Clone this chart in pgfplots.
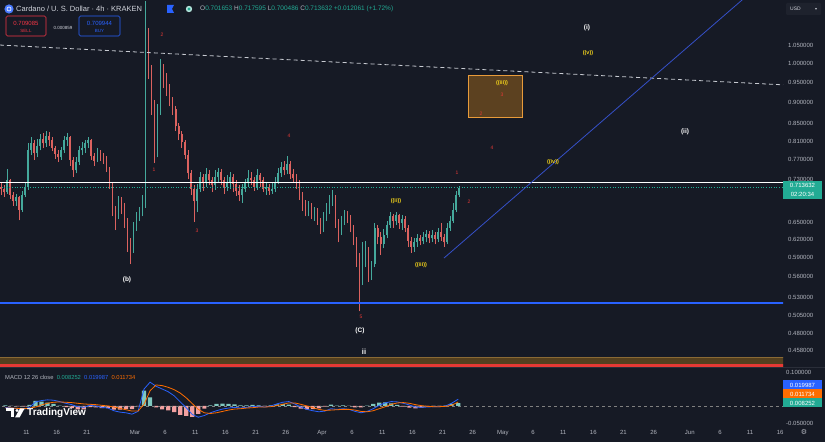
\documentclass[border=0pt]{standalone}
\usepackage{pgfplots}
\pgfplotsset{compat=1.18}
\usepackage{pgfplotstable}
\usepackage{fontspec}
\setmainfont{Liberation Sans}
\newfontfamily\symfont{DejaVu Sans}
\newcommand\fs[1]{\fontsize{#1}{#1}\selectfont}
\definecolor{bg}{HTML}{161A25}
\definecolor{txt}{HTML}{B2B5BE}
\definecolor{hdr}{HTML}{D1D4DC}
\definecolor{up}{HTML}{45A99C}
\definecolor{dn}{HTML}{DB625F}
\definecolor{tvblue}{HTML}{2962FF}
\definecolor{diagblue}{HTML}{3550C8}
\definecolor{tvorange}{HTML}{FF6D00}
\definecolor{tvteal}{HTML}{22AB94}
\definecolor{tvred}{HTML}{F23645}
\definecolor{ewred}{HTML}{E53935}
\definecolor{ewyellow}{HTML}{F2D21B}
\definecolor{bandbrown}{HTML}{54401F}
\definecolor{bandedge}{HTML}{8A6A35}
\definecolor{boxfill}{HTML}{5C4120}
\definecolor{boxedge}{HTML}{E89B3A}
\definecolor{dashcol}{HTML}{C8CBD2}
\definecolor{histpos}{HTML}{7FC8BF}
\definecolor{histneg}{HTML}{F2A0A0}
\definecolor{sep}{HTML}{2A2E39}
\definecolor{usdbg}{HTML}{1E222D}

% 12h candles, x = days from 1 Mar 2025
\pgfplotstableread{
x o h l c
-22.25 0.716 0.722 0.700 0.712
-21.75 0.712 0.718 0.696 0.705
-21.25 0.705 0.750 0.702 0.728
-20.75 0.728 0.730 0.692 0.700
-20.25 0.700 0.705 0.680 0.688
-19.75 0.688 0.702 0.680 0.695
-19.25 0.695 0.698 0.653 0.672
-18.75 0.672 0.708 0.668 0.700
-18.25 0.700 0.725 0.695 0.715
-17.75 0.715 0.805 0.710 0.790
-17.25 0.790 0.818 0.780 0.805
-16.75 0.805 0.812 0.770 0.785
-16.25 0.785 0.815 0.775 0.800
-15.75 0.800 0.825 0.790 0.815
-15.25 0.815 0.828 0.795 0.805
-14.75 0.805 0.832 0.798 0.822
-14.25 0.822 0.830 0.800 0.812
-13.75 0.812 0.818 0.788 0.795
-13.25 0.795 0.800 0.772 0.782
-12.75 0.782 0.790 0.765 0.775
-12.25 0.775 0.798 0.770 0.790
-11.75 0.790 0.822 0.785 0.812
-11.25 0.812 0.828 0.800 0.818
-10.75 0.818 0.822 0.758 0.770
-10.25 0.770 0.775 0.735 0.748
-9.75 0.748 0.775 0.742 0.765
-9.25 0.765 0.800 0.760 0.790
-8.75 0.790 0.808 0.780 0.795
-8.25 0.795 0.812 0.785 0.805
-7.75 0.805 0.820 0.795 0.812
-7.25 0.812 0.815 0.770 0.778
-6.75 0.778 0.785 0.758 0.768
-6.25 0.768 0.795 0.765 0.785
-5.75 0.785 0.790 0.768 0.776
-5.25 0.776 0.785 0.762 0.772
-4.75 0.772 0.778 0.745 0.752
-4.25 0.752 0.756 0.712 0.722
-3.75 0.722 0.725 0.660 0.672
-3.25 0.672 0.680 0.636 0.660
-2.75 0.660 0.698 0.655 0.688
-2.25 0.688 0.695 0.665 0.680
-1.75 0.680 0.684 0.640 0.652
-1.25 0.652 0.658 0.600 0.615
-0.75 0.615 0.622 0.580 0.602
-0.25 0.602 0.650 0.598 0.640
0.25 0.640 0.668 0.635 0.660
0.75 0.660 0.678 0.652 0.668
1.25 0.668 0.700 0.660 0.680
1.75 0.680 1.185 0.675 1.060
2.25 1.060 1.100 0.960 0.985
2.75 0.985 0.995 0.870 0.900
3.25 0.900 0.905 0.763 0.815
3.75 0.815 0.895 0.775 0.880
4.25 0.880 1.012 0.870 0.985
4.75 0.985 0.998 0.935 0.962
5.25 0.962 0.975 0.915 0.935
5.75 0.935 0.945 0.890 0.905
6.25 0.905 0.912 0.870 0.885
6.75 0.885 0.890 0.832 0.845
7.25 0.845 0.852 0.812 0.825
7.75 0.825 0.832 0.795 0.808
8.25 0.808 0.812 0.772 0.780
8.75 0.780 0.790 0.730 0.742
9.25 0.742 0.748 0.700 0.712
9.75 0.712 0.718 0.650 0.688
10.25 0.688 0.720 0.668 0.712
10.75 0.712 0.745 0.705 0.735
11.25 0.735 0.740 0.708 0.722
11.75 0.722 0.752 0.715 0.740
12.25 0.740 0.748 0.718 0.728
12.75 0.728 0.735 0.705 0.718
13.25 0.718 0.748 0.710 0.735
13.75 0.735 0.752 0.725 0.745
14.25 0.745 0.750 0.718 0.728
14.75 0.728 0.735 0.702 0.715
15.25 0.715 0.738 0.708 0.722
15.75 0.722 0.745 0.712 0.735
16.25 0.735 0.740 0.705 0.720
16.75 0.720 0.728 0.698 0.708
17.25 0.708 0.718 0.688 0.700
17.75 0.700 0.720 0.685 0.712
18.25 0.712 0.730 0.705 0.722
18.75 0.722 0.748 0.715 0.732
19.25 0.732 0.745 0.718 0.728
19.75 0.728 0.735 0.708 0.715
20.25 0.715 0.750 0.710 0.738
20.75 0.738 0.742 0.715 0.728
21.25 0.728 0.735 0.705 0.712
21.75 0.712 0.722 0.700 0.715
22.25 0.715 0.720 0.700 0.708
22.75 0.708 0.722 0.702 0.712
23.25 0.712 0.735 0.705 0.725
23.75 0.725 0.752 0.720 0.742
24.25 0.742 0.765 0.735 0.755
24.75 0.755 0.768 0.738 0.748
25.25 0.748 0.778 0.740 0.762
25.75 0.762 0.768 0.730 0.740
26.25 0.740 0.750 0.722 0.732
26.75 0.732 0.740 0.712 0.722
27.25 0.722 0.728 0.690 0.698
27.75 0.698 0.705 0.670 0.680
28.25 0.680 0.690 0.660 0.668
28.75 0.668 0.688 0.660 0.678
29.25 0.678 0.684 0.655 0.665
29.75 0.665 0.678 0.652 0.670
30.25 0.670 0.675 0.645 0.652
30.75 0.652 0.658 0.630 0.638
31.25 0.638 0.668 0.632 0.660
31.75 0.660 0.685 0.652 0.672
32.25 0.672 0.700 0.665 0.688
32.75 0.688 0.710 0.680 0.695
33.25 0.695 0.700 0.640 0.650
33.75 0.650 0.655 0.615 0.632
34.25 0.632 0.660 0.628 0.652
34.75 0.652 0.672 0.645 0.665
35.25 0.665 0.670 0.648 0.655
35.75 0.655 0.662 0.632 0.640
36.25 0.640 0.645 0.610 0.620
36.75 0.620 0.625 0.575 0.590
37.25 0.590 0.598 0.510 0.560
37.75 0.560 0.615 0.548 0.600
38.25 0.600 0.618 0.575 0.605
38.75 0.605 0.608 0.552 0.565
39.25 0.565 0.585 0.555 0.580
39.75 0.580 0.648 0.575 0.640
40.25 0.640 0.645 0.612 0.625
40.75 0.625 0.632 0.595 0.612
41.25 0.612 0.638 0.605 0.628
41.75 0.628 0.652 0.622 0.645
42.25 0.645 0.668 0.640 0.660
42.75 0.660 0.665 0.640 0.652
43.25 0.652 0.668 0.645 0.662
43.75 0.662 0.665 0.638 0.648
44.25 0.648 0.662 0.636 0.655
44.75 0.655 0.660 0.632 0.640
45.25 0.640 0.645 0.608 0.618
45.75 0.618 0.625 0.598 0.608
46.25 0.608 0.622 0.600 0.615
46.75 0.615 0.630 0.608 0.622
47.25 0.622 0.628 0.610 0.618
47.75 0.618 0.632 0.612 0.625
48.25 0.625 0.636 0.615 0.630
48.75 0.630 0.634 0.614 0.622
49.25 0.622 0.636 0.616 0.628
49.75 0.628 0.632 0.612 0.620
50.25 0.620 0.640 0.615 0.632
50.75 0.632 0.648 0.618 0.625
51.25 0.625 0.630 0.608 0.615
51.75 0.615 0.648 0.612 0.640
52.25 0.640 0.660 0.635 0.652
52.75 0.652 0.685 0.648 0.672
53.25 0.672 0.708 0.668 0.700
53.75 0.700 0.7176 0.695 0.7136
}\candles

\pgfplotstableread{
x m s h
-21.5 -0.004 -0.006 0.002
-20.5 -0.006 -0.006 0.000
-19.5 -0.008 -0.007 -0.001
-18.5 -0.010 -0.008 -0.002
-17.5 -0.004 -0.007 0.003
-16.5 0.012 -0.003 0.015
-15.5 0.016 0.003 0.013
-14.5 0.018 0.008 0.010
-13.5 0.017 0.011 0.006
-12.5 0.013 0.012 0.001
-11.5 0.008 0.011 -0.003
-10.5 0.004 0.010 -0.006
-9.5 -0.002 0.008 -0.010
-8.5 -0.004 0.006 -0.010
-7.5 0.002 0.005 -0.003
-6.5 0.000 0.004 -0.004
-5.5 -0.004 0.002 -0.006
-4.5 -0.006 0.000 -0.006
-3.5 -0.014 -0.003 -0.011
-2.5 -0.018 -0.007 -0.011
-1.5 -0.020 -0.011 -0.009
-0.5 -0.024 -0.015 -0.009
0.5 -0.016 -0.015 -0.001
1.5 0.050 0.005 0.045
2.5 0.070 0.045 0.025
3.5 0.058 0.062 -0.004
4.5 0.050 0.060 -0.010
5.5 0.042 0.055 -0.013
6.5 0.030 0.048 -0.018
7.5 0.012 0.038 -0.026
8.5 -0.005 0.024 -0.029
9.5 -0.025 0.007 -0.032
10.5 -0.033 -0.010 -0.023
11.5 -0.028 -0.020 -0.008
12.5 -0.020 -0.022 0.002
13.5 -0.014 -0.020 0.006
14.5 -0.009 -0.016 0.007
15.5 -0.006 -0.012 0.006
16.5 -0.004 -0.009 0.005
17.5 -0.006 -0.008 0.002
18.5 -0.004 -0.006 0.002
19.5 -0.002 -0.005 0.003
20.5 -0.001 -0.003 0.002
21.5 -0.003 -0.003 0.000
22.5 0.000 -0.002 0.002
23.5 0.006 0.001 0.005
24.5 0.011 0.005 0.006
25.5 0.013 0.009 0.004
26.5 0.006 0.009 -0.003
27.5 -0.003 0.005 -0.008
28.5 -0.010 0.000 -0.010
29.5 -0.014 -0.005 -0.009
30.5 -0.017 -0.010 -0.007
31.5 -0.015 -0.013 -0.002
32.5 -0.008 -0.012 0.004
33.5 -0.010 -0.011 0.001
34.5 -0.008 -0.010 0.002
35.5 -0.010 -0.010 0.000
36.5 -0.016 -0.012 -0.004
37.5 -0.020 -0.016 -0.004
38.5 -0.016 -0.017 0.001
39.5 -0.008 -0.014 0.006
40.5 0.002 -0.008 0.010
41.5 0.009 -0.002 0.011
42.5 0.013 0.005 0.008
43.5 0.012 0.009 0.003
44.5 0.008 0.010 -0.002
45.5 0.003 0.008 -0.005
46.5 -0.003 0.004 -0.007
47.5 -0.004 0.001 -0.005
48.5 -0.003 -0.001 -0.002
49.5 -0.002 -0.002 0.000
50.5 -0.002 -0.002 0.000
51.5 0.000 -0.001 0.001
52.5 0.008 0.002 0.006
53.6 0.019987 0.011734 0.008252
}\macd

\begin{document}
\begin{tikzpicture}
\fill[bg] (0pt,0pt) rectangle (825pt,442pt);

% ---------------- main price panel (log price scale: plotted as ln of price) ----------------
\begin{axis}[
  at={(0pt,75pt)}, anchor=south west, scale only axis,
  width=783pt, height=367pt,
  xmin=-22.388, xmax=107.46,
  ymin=-0.82461, ymax=0.17270,
  axis line style={draw=none}, tick style={draw=none},
  xtick=\empty,
  ytick={-0.78089,-0.73397,-0.68320,-0.63488,-0.57982,-0.52763,-0.47804,-0.43078,-0.31471,-0.26136,-0.21072,-0.16252,-0.10536,-0.05129,0,0.04879},
  yticklabels={0.458000,0.480000,0.505000,0.530000,0.560000,0.590000,0.620000,0.650000,0.730000,0.770000,0.810000,0.850000,0.900000,0.950000,1.000000,1.050000},
  yticklabel pos=right,
  yticklabel style={font=\fs{6}, text=txt, inner sep=0pt, anchor=west, xshift=5pt},
  minor tick num=0,
]
% bottom band
\addplot[draw=none, fill=bandbrown] table[row sep=\\, y expr=ln(\thisrow{p})] {x p\\ -23 0.4384\\ 108 0.4384\\ 108 0.4501\\ -23 0.4501\\} -- cycle;
\addplot[bandedge, line width=0.6pt] table[row sep=\\, y expr=ln(\thisrow{p})] {x p\\ -23 0.4501\\ 108 0.4501\\};
\addplot[ewred, line width=2.5pt] table[row sep=\\, y expr=ln(\thisrow{p})] {x p\\ -23 0.4402\\ 108 0.4402\\};
% target box
\addplot[fill=boxfill, draw=boxedge, line width=0.7pt] table[row sep=\\, y expr=ln(\thisrow{p})] {x p\\ 55.2 0.8648\\ 64.3 0.8648\\ 64.3 0.9693\\ 55.2 0.9693\\} -- cycle;

% candles: wicks
\addplot[draw=none, mark=none, restrict expr to domain={\thisrow{c}-\thisrow{o}}{0:1},
  error bars/.cd, y dir=plus, y explicit, error mark=none,
  error bar style={draw=up, line width=0.5pt}]
  table[x=x, y expr=ln(\thisrow{l}), y error plus expr=ln(\thisrow{h})-ln(\thisrow{l})] {\candles};
\addplot[draw=none, mark=none, restrict expr to domain={\thisrow{c}-\thisrow{o}}{-1:0},
  error bars/.cd, y dir=plus, y explicit, error mark=none,
  error bar style={draw=dn, line width=0.5pt}]
  table[x=x, y expr=ln(\thisrow{l}), y error plus expr=ln(\thisrow{h})-ln(\thisrow{l})] {\candles};
% candles: bodies
\addplot[draw=none, mark=none, restrict expr to domain={\thisrow{c}-\thisrow{o}}{0:1},
  error bars/.cd, y dir=plus, y explicit, error mark=none,
  error bar style={draw=up, line width=1.6pt}]
  table[x=x, y expr=ln(\thisrow{o}), y error plus expr=ln(\thisrow{c})-ln(\thisrow{o})] {\candles};
\addplot[draw=none, mark=none, restrict expr to domain={\thisrow{c}-\thisrow{o}}{-1:0},
  error bars/.cd, y dir=plus, y explicit, error mark=none,
  error bar style={draw=dn, line width=1.6pt}]
  table[x=x, y expr=ln(\thisrow{c}), y error plus expr=ln(\thisrow{o})-ln(\thisrow{c})] {\candles};

% lines
\addplot[tvblue, line width=2pt] table[row sep=\\, y expr=ln(\thisrow{p})] {x p\\ -23 0.5217\\ 108 0.5217\\};
\addplot[white, line width=1.1pt] table[row sep=\\, y expr=ln(\thisrow{p})] {x p\\ -23 0.7247\\ 108 0.7247\\};
\addplot[tvteal, dotted, line width=0.6pt] table[row sep=\\, y expr=ln(\thisrow{p})] {x p\\ -23 0.7136\\ 108 0.7136\\};
\addplot[dashcol, dash pattern=on 4pt off 3pt, line width=0.8pt] table[row sep=\\, y expr=ln(\thisrow{p})] {x p\\ -22.388 1.0516\\ 107.46 0.9438\\};
\addplot[diagblue, line width=0.8pt] table[row sep=\\, y expr=ln(\thisrow{p})] {x p\\ 51.24 0.5895\\ 101.99 1.211\\};
\end{axis}

% ---------------- MACD panel ----------------
\begin{axis}[
  at={(0pt,17pt)}, anchor=south west, scale only axis,
  width=783pt, height=58pt,
  xmin=-22.388, xmax=107.46,
  ymin=-0.0559, ymax=0.1147,
  axis line style={draw=none}, tick style={draw=none},
  ytick={-0.05,0.1}, yticklabels={-0.050000,0.100000},
  yticklabel pos=right,
  yticklabel style={font=\fs{6}, text=txt, inner sep=0pt, anchor=west, xshift=3pt},
  xtick={-18,-13,-8,0,5,10,15,20,25,31,36,41,46,51,56,61,66,71,76,81,86,92,97,102,107},
  xticklabels={11,16,21,Mar,6,11,16,21,26,Apr,6,11,16,21,26,May,6,11,16,21,26,Jun,6,11,16},
  xticklabel style={font=\fs{6}, text=txt, inner sep=0pt, anchor=base, yshift=-9.5pt},
]
\addplot[ybar, bar width=4.2pt, bar shift=0pt, fill=histpos, draw=none, restrict y to domain=0:1] table[x=x, y=h] {\macd};
\addplot[ybar, bar width=4.2pt, bar shift=0pt, fill=histneg, draw=none, restrict y to domain=-1:0] table[x=x, y=h] {\macd};
\addplot[gray, dashed, line width=0.4pt] coordinates {(-23,0) (108,0)};
\addplot[tvblue, line width=0.8pt, mark=none] table[x=x, y=m] {\macd};
\addplot[tvorange, line width=0.8pt, mark=none] table[x=x, y=s] {\macd};
\end{axis}

\begin{scope}[x=1pt, y=1pt]
% separator between panels
\draw[sep, line width=0.6pt] (0,75) -- (825,75);

% ---------------- header ----------------
\fill[tvblue!85] (9,433) circle (4.6);
\draw[white, line width=0.6pt] (9,433) circle (2);
\node[anchor=west, text=hdr, inner sep=0pt] at (16,433) {\fs{7.5}Cardano / U. S. Dollar · 4h · KRAKEN};
\fill[tvblue] (167,437) -- (174,437) -- (172,433) -- (174,429) -- (167,429) -- cycle;
\fill[tvteal!35] (189,433) circle (3.2);
\fill[tvteal] (189,433) circle (1.7);
\node[anchor=west, text=txt, inner sep=0pt] at (200,433) {\fs{6.5}O{\color{tvteal}0.701653} H{\color{tvteal}0.717595} L{\color{tvteal}0.700486} C{\color{tvteal}0.713632} {\color{tvteal}+0.012061 (+1.72\%)}};

\draw[tvred, fill=bg, rounded corners=1.5pt, line width=0.6pt] (6,426) rectangle (46,406);
\node[text=tvred, inner sep=0pt] at (26,419) {\fs{6}0.709085};
\node[text=tvred, inner sep=0pt] at (26,411) {\fs{4.5}SELL};
\node[text=hdr, inner sep=0pt] at (63,414) {\fs{4.5}0.000859};
\draw[tvblue, fill=bg, rounded corners=1.5pt, line width=0.6pt] (79,426) rectangle (120,406);
\node[text=tvblue, inner sep=0pt] at (99.5,419) {\fs{6}0.709944};
\node[text=tvblue, inner sep=0pt] at (99.5,411) {\fs{4.5}BUY};

\fill[usdbg, rounded corners=1pt] (786,439) rectangle (821,427);
\node[anchor=west, text=hdr, inner sep=0pt] at (790,433) {\fs{5}USD};
\node[text=hdr, inner sep=0pt] at (816,433) {\symfont\fs{4}▾};

% current price tag
\fill[tvteal] (783,261) rectangle (822,243);
\node[text=white, inner sep=0pt] at (802.5,256.5) {\fs{6}0.713632};
\node[text=white, inner sep=0pt] at (802.5,248) {\fs{6}02:20:34};

% MACD value tags
\fill[tvblue] (783,61.5) rectangle (822,52.5);
\node[text=white, inner sep=0pt] at (802.5,57) {\fs{6}0.019987};
\fill[tvorange] (783,52.5) rectangle (822,43.5);
\node[text=white, inner sep=0pt] at (802.5,48) {\fs{6}0.011734};
\fill[tvteal] (783,43.5) rectangle (822,34.5);
\node[text=white, inner sep=0pt] at (802.5,39) {\fs{6}0.008252};

% MACD legend
\node[anchor=west, text=txt, inner sep=0pt] at (5,65) {\fs{5.8}MACD 12 26 close\ \ {\color{tvteal}0.008252}\ \ {\color{tvblue}0.019987}\ \ {\color{tvorange}0.011734}};

% TradingView logo
\fill[white] (6,33.5) rectangle (14,30.5);
\fill[white] (11,30.5) rectangle (14,24.5);
\fill[white] (17,31.5) circle (1.6);
\fill[white] (20,33.5) -- (24.5,33.5) -- (19.5,24.5) -- (15,24.5) -- cycle;
\node[anchor=west, text=white, inner sep=0pt] at (27,29) {\fs{10}\bfseries TradingView};

% gear
\node[text=txt, inner sep=0pt] at (804,10) {\symfont\fs{7}⚙};

% ---------------- wave labels ----------------
\begin{scope}[every node/.style={inner sep=0pt, text=ewred}]
\node at (154,272) {\fs{5}1};
\node at (162,407) {\fs{5}2};
\node at (197,211) {\fs{5}3};
\node at (289,306) {\fs{5}4};
\node at (361,125) {\fs{5}5};
\node at (457,269) {\fs{5}1};
\node at (469,240) {\fs{5}2};
\node at (481,328) {\fs{5}2};
\node at (502,347) {\fs{5}3};
\node at (492,294) {\fs{5}4};
\end{scope}
\begin{scope}[every node/.style={inner sep=0pt, text=ewyellow, font=\fs{5.5}\bfseries}]
\node at (396,241) {((ii))};
\node at (421,177) {((iii))};
\node at (502,359) {((iii))};
\node at (553,280) {((iv))};
\node at (588,389) {((v))};
\end{scope}
\begin{scope}[every node/.style={inner sep=0pt, text=white, font=\fs{6.5}\bfseries}]
\node at (127,162) {(b)};
\node at (360,111) {(C)};
\node at (364,90) {\fs{7.5}ii};
\node at (587,414) {(i)};
\node at (685,310) {(ii)};
\end{scope}
\end{scope}

\pgfresetboundingbox
\useasboundingbox (0pt,0pt) rectangle (825pt,442pt);
\end{tikzpicture}
\end{document}
